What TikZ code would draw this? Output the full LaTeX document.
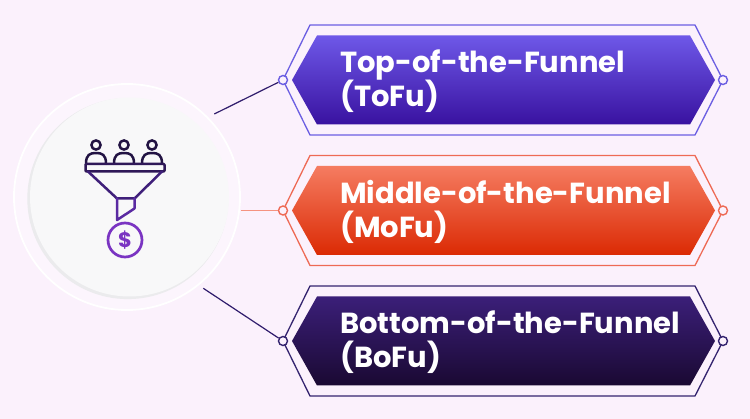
\documentclass[tikz,border=0pt]{standalone}
\usepackage{fontspec}
\setmainfont{Poppins}
\definecolor{bg}{HTML}{FBF1FC}
\definecolor{ringfill}{HTML}{FCF5FD}
\definecolor{diskfill}{HTML}{F8F8F9}
\definecolor{diskshadow}{HTML}{EBEBED}
\definecolor{lineA}{HTML}{6B5EE2}
\definecolor{topA}{HTML}{6E58E8}
\definecolor{botA}{HTML}{3912A0}
\definecolor{lineB}{HTML}{EE6A55}
\definecolor{topB}{HTML}{F57C61}
\definecolor{botB}{HTML}{DB2A04}
\definecolor{lineC}{HTML}{34246F}
\definecolor{topC}{HTML}{3B1F79}
\definecolor{botC}{HTML}{1A0932}
\definecolor{connA}{HTML}{2F1C6C}
\definecolor{connB}{HTML}{F59380}
\definecolor{icA}{HTML}{221343}
\definecolor{icB}{HTML}{2F1858}
\definecolor{icC}{HTML}{3F1F7A}
\definecolor{icD}{HTML}{5A2AA2}
\definecolor{icE}{HTML}{7A34C2}
\begin{document}
\begin{tikzpicture}[x=1pt,y=-1pt,
  outerhex/.style={line width=1.3pt, line join=miter},
  marker/.style={circle, draw, fill=bg, line width=1.4pt, minimum size=9pt, inner sep=0pt},
  conn/.style={line width=1.2pt},
  icon/.style={line width=2.5pt, line join=round, line cap=round},
  label/.style={anchor=base west, text=white, font=\fontsize{29}{34}\selectfont\bfseries, inner sep=0pt}]
\useasboundingbox (0,0) rectangle (750,419);
\fill[bg] (0,0) rectangle (750,419);
% left disk
\draw[white, line width=1.8pt, fill=ringfill] (127,197) circle[radius=113];
\fill[diskshadow] (127.8,198.6) circle[radius=100.5];
\fill[diskfill] (129.5,197) circle[radius=99.5];
% icon
\foreach \px in {96,124,152} {
  \draw[icon, icA] (\px,145) circle[radius=4.6];
  \draw[icon, icA] (\px-10,163.8) .. controls (\px-10,154.5) and (\px-6,153) .. (\px,153)
     .. controls (\px+6,153) and (\px+10,154.5) .. (\px+10,163.8);
}
\draw[icon, icB, rounded corners=1pt] (85.5,163.8) rectangle (164.5,171.5);
\draw[icon, icC] (88,171.5) -- (117,198.5) -- (134.5,198.5) -- (162,171.5);
\draw[icon, icD] (117,198.5) -- (117,220) -- (134.5,208.5) -- (134.5,198.5);
\draw[icon, icE, line width=2.7pt] (125,240) circle[radius=17];
\node[icE, font=\fontsize{21}{21}\selectfont\bfseries, inner sep=0pt] (dollar) at (125,240.5) {\$};
% hexagons
\foreach \i/\c/\lc/\tc/\bc/\la/\lb in {1/80/lineA/topA/botA/Top-of-the-Funnel/(ToFu),
    2/210.5/lineB/topB/botB/Middle-of-the-Funnel/(MoFu),
    3/341/lineC/topC/botC/Bottom-of-the-Funnel/(BoFu)} {
  \draw[outerhex, \lc] (310,\c-55) -- (695,\c-55) -- (723,\c) -- (695,\c+55) -- (310,\c+55) -- (283,\c) -- cycle;
  \shade[top color=\tc, bottom color=\bc] (317,\c-44.5) -- (690,\c-44.5) -- (715,\c) -- (690,\c+44.5) -- (317,\c+44.5) -- (292,\c) -- cycle;
  \node[marker, draw=\lc] (ml\i) at (283,\c) {};
  \node[marker, draw=\lc] (mr\i) at (723,\c) {};
  \node[label] (ta\i) at (340,\c-7) {\la};
  \node[label] (tb\i) at (340,\c+27) {\lb};
}
% connectors
\coordinate (s1) at (214.3,114);
\coordinate (s2) at (240.7,210.5);
\coordinate (s3) at (203.3,288.3);
\draw[conn, connA] (s1) -- (ml1);
\draw[conn, connB] (s2) -- (ml2);
\draw[conn, connA] (s3) -- (ml3);
\end{tikzpicture}
\end{document}
